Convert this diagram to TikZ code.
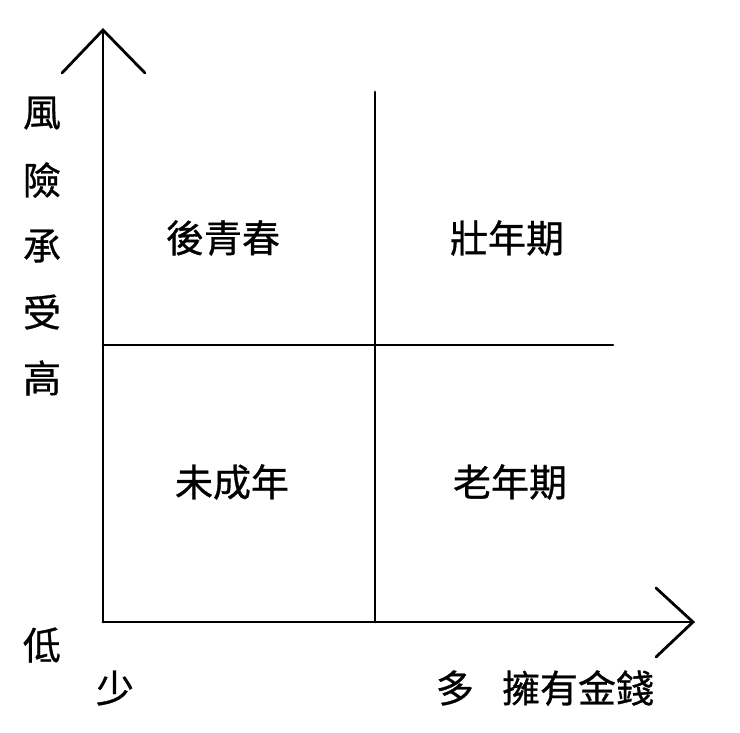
\documentclass[tikz,border=0pt]{standalone}
\usepackage{fontspec}
\setmainfont{Noto Sans CJK TC}[FakeBold=0.8]
\begin{document}
\begin{tikzpicture}[x=1pt,y=-1pt,
  ln/.style={line width=2.8pt,line cap=round},
  lbl/.style={font=\fontsize{38}{38}\selectfont,inner sep=0pt}]
\useasboundingbox (0,0) rectangle (740,732);
\coordinate (o) at (103,622);
\coordinate (yt) at (103,30);
\coordinate (xt) at (693,622);
\draw[ln] (o) -- (yt);
\draw[ln] (62,73) -- (yt) -- (145,73);
\draw[ln] (o) -- (xt);
\draw[ln] (656,588) -- (xt) -- (656,657);
\coordinate (vt) at (375,92);
\coordinate (vb) at (375,622);
\draw[ln] (vt) -- (vb);
\coordinate (hl) at (103,345);
\coordinate (hr) at (613,345);
\draw[ln] (hl) -- (hr);
\node[lbl] (q1) at (223,238) {後青春};
\node[lbl] (q2) at (507,238) {壯年期};
\node[lbl] (q3) at (232,482) {未成年};
\node[lbl] (q4) at (510,482) {老年期};
\node[lbl] (v1) at (42,113) {風};
\node[lbl] (v2) at (42,180) {險};
\node[lbl] (v3) at (42,246) {承};
\node[lbl] (v4) at (42,312) {受};
\node[lbl] (v5) at (42,378) {高};
\node[lbl] (lo) at (42,645) {低};
\node[lbl] (few) at (115,688) {少};
\node[lbl] (many) at (455,688) {多};
\node[lbl] (money) at (578,688) {擁有金錢};
\end{tikzpicture}
\end{document}
